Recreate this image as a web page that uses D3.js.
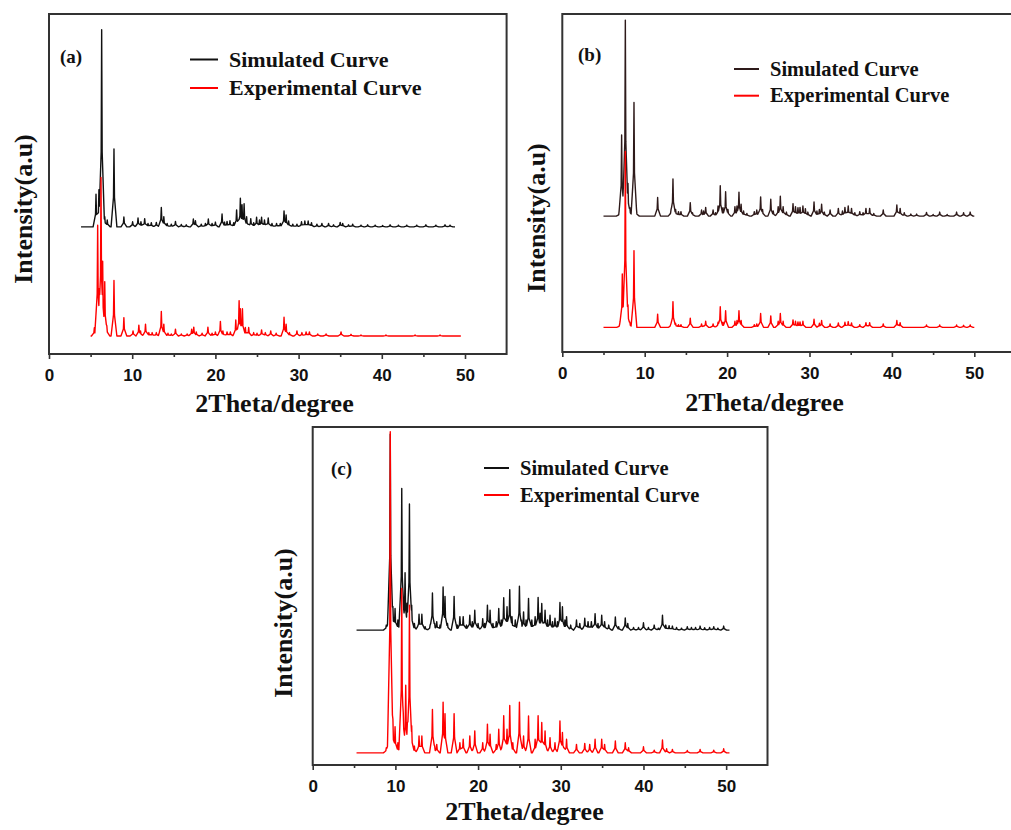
<!DOCTYPE html>
<html>
<head>
<meta charset="utf-8">
<script src="https://cdn.jsdelivr.net/npm/d3@7"></script>
<style>
  body { margin: 0; background: #fff; }
  svg { display: block; }
</style>
</head>
<body>
<div id="chart"></div>
<script>
// tick values and labels
const majorTicks = [0, 10, 20, 30, 40, 50];
const minorTicks = [5, 15, 25, 35, 45];
const xDomain = [0, 55];
const seriesNames = ["Simulated Curve", "Experimental Curve"];
const panelLabels = ["(a)", "(b)", "(c)"];
const xTitle = "2Theta/degree";
const yTitle = "Intensity(a.u)";

// baseline levels (a.u., 0-100 of the frame) and 2theta ranges of each curve
const simBase = [37.4, 40.2, 39.9];
const expBase = [5.3, 7.3, 3.6];
const simRange = [[3.85, 48.8], [5, 50], [5.3, 50.4]];
const expRange = [[5.0, 49.5], [5, 50], [5.3, 50.4]];

// peaks: [2theta, height above baseline]
const simA = [[5.65,9.6],[6.0,10.9],[6.33,58],[6.7,3],[7.0,2],[7.81,22.9],[9.0,2.9],[10.05,1.5],[10.7,2.6],[11.05,1.5],[11.5,2.4],[11.9,1.0],[12.3,1.2],[12.9,1.3],[13.5,5.7],[13.8,3.0],[14.2,1.0],[14.7,0.8],[15.2,1.6],[15.9,0.7],[16.5,0.6],[17.35,2.3],[17.6,1.8],[18.3,0.8],[18.8,1.0],[19.15,2.3],[19.6,1.0],[20.0,1.4],[20.8,3.8],[21.1,1.4],[21.4,1.6],[21.75,1.8],[22.2,1.2],[22.55,5.0],[23.0,8.4],[23.2,6.5],[23.45,6.8],[23.75,3.0],[24.25,2.4],[24.6,1.2],[24.95,2.8],[25.3,2.0],[25.55,2.8],[25.9,2.0],[26.35,2.6],[26.8,1.0],[27.35,1.0],[27.8,1.0],[28.25,4.7],[28.5,3.5],[28.8,1.7],[29.3,0.8],[29.8,0.8],[30.35,1.5],[30.75,1.7],[31.15,1.7],[31.55,1.2],[32.2,0.8],[32.8,1.0],[33.6,1.0],[34.2,0.6],[35.0,1.3],[35.3,1.0],[36.0,0.6],[36.5,0.8],[37.5,0.5],[38.3,0.6],[39.2,0.5],[40.1,0.4],[41.0,0.6],[42.0,0.5],[43.0,0.5],[44.2,0.5],[45.3,0.6],[46.5,0.5],[47.6,0.6],[48.2,0.5]];
const expA = [[5.45,2.4],[5.85,32.6],[6.05,14],[6.25,46.6],[6.45,22],[6.7,16],[6.95,3],[7.81,16.3],[9.0,5.4],[10.1,1.5],[10.8,3.2],[11.0,1.5],[11.6,3.5],[12.0,1.0],[12.4,1.0],[12.9,1.0],[13.5,7.2],[13.8,3.5],[14.3,0.8],[14.7,0.6],[15.2,2.0],[15.9,0.6],[16.6,0.6],[17.15,2.0],[17.4,2.6],[17.7,1.2],[18.4,0.8],[19.1,2.6],[19.6,0.8],[20.0,1.2],[20.6,4.3],[20.9,1.5],[21.4,1.2],[21.8,1.2],[22.45,4.7],[22.85,10.4],[23.0,8],[23.25,8.0],[23.6,2.5],[24.0,2.5],[24.6,1.0],[25.0,0.8],[25.55,1.8],[26.0,1.0],[26.65,1.5],[27.3,0.8],[28.25,5.5],[28.5,3.5],[28.9,1.0],[29.8,1.5],[30.4,1.0],[30.9,1.2],[31.3,1.2],[32.3,0.6],[33.3,0.6],[35.1,1.2],[36.3,0.5],[37.5,0.3],[40.5,0.3],[44.0,0.3],[47.0,0.3]];
const simB = [[6.9,1.0],[7.2,24],[7.42,9],[7.65,58],[7.97,9.7],[8.2,2.5],[8.7,33.6],[9.0,1.5],[11.57,5.5],[13.2,2.0],[13.43,11],[13.75,2.0],[14.1,1.3],[14.4,1.3],[15.53,4],[15.8,1.0],[16.9,1.8],[17.15,1.5],[17.4,2.6],[18.3,1.8],[18.6,1.0],[18.9,3.0],[19.17,9.0],[19.5,2.5],[19.82,7.2],[20.1,2.0],[20.95,2.8],[21.2,3.0],[21.44,7.1],[21.7,3.5],[22.0,1.5],[22.4,0.8],[23.3,1.3],[23.6,1.8],[24.07,5.7],[24.3,2.0],[25.3,5.0],[25.6,1.5],[26.2,2.8],[26.46,5.9],[26.8,2.8],[27.2,1.2],[28.0,3.7],[28.3,2.8],[28.6,2.5],[28.85,2.6],[29.2,3.0],[29.5,2.2],[29.8,1.2],[30.55,4.2],[30.9,1.5],[31.2,2.0],[31.47,3.5],[31.8,1.2],[32.5,1.8],[33.5,2.3],[34.0,1.5],[34.3,2.6],[34.7,3.0],[35.1,2.3],[35.5,1.0],[36.1,1.3],[36.5,1.0],[36.85,2.3],[37.3,2.3],[37.8,0.8],[38.95,1.8],[40.6,3.3],[41.0,2.3],[41.5,1.0],[42.3,0.6],[43.0,0.6],[44.2,1.1],[45.0,0.5],[45.8,1.2],[46.7,0.5],[47.85,1.2],[48.7,1.0],[49.5,1.2]];
const expB = [[6.95,0.8],[7.28,15.8],[7.45,8],[7.65,52],[7.97,6.6],[8.2,1.5],[8.7,22.7],[11.57,3.9],[13.25,1.5],[13.43,7.6],[13.75,1.2],[14.1,0.8],[14.4,0.8],[15.53,2.7],[16.9,1.0],[17.4,1.8],[18.3,1.0],[18.9,1.5],[19.17,6.1],[19.5,1.5],[19.82,4.9],[20.95,1.8],[21.2,2.0],[21.44,4.9],[21.7,2.0],[23.3,0.8],[23.6,1.0],[24.07,4.1],[25.3,3.4],[26.2,1.8],[26.46,4.1],[26.8,1.8],[28.0,2.2],[28.3,1.8],[28.6,1.6],[28.85,1.6],[29.2,1.8],[30.55,2.4],[31.2,1.2],[31.47,2.0],[32.5,1.0],[33.5,1.3],[34.3,1.5],[34.7,1.7],[35.1,1.3],[36.1,0.8],[36.85,1.4],[37.3,1.4],[38.95,1.0],[40.6,2.0],[41.0,1.4],[44.2,0.7],[45.8,0.7],[47.85,0.7],[48.7,0.6],[49.5,0.7]];
const simC = [[8.9,1.5],[9.1,4],[9.38,58],[9.7,7],[9.96,6.4],[10.3,3],[10.77,41.9],[10.95,10],[11.17,17],[11.4,8],[11.7,37.3],[11.97,7.4],[12.3,2],[12.86,4.7],[13.2,4.7],[13.6,1],[14.2,1.5],[14.48,11],[14.75,2],[15.0,2.5],[15.4,1.5],[15.77,12.8],[16.0,10],[16.3,2],[17.1,10],[17.5,1.5],[17.8,4],[18.2,4],[18.6,1.5],[19.0,4.4],[19.3,2.5],[19.6,5.9],[20.0,2],[20.56,3.4],[20.8,2],[21.13,7.4],[21.45,5.9],[21.8,2],[22.2,2.5],[22.5,6.4],[22.8,3],[23.1,9.6],[23.5,6.9],[23.83,12],[24.1,4],[24.5,3],[25.0,13],[25.25,3],[25.5,5.4],[25.8,3],[26.1,9.4],[26.5,3],[26.9,4],[27.26,9.7],[27.5,5],[27.7,7.9],[28.1,5.9],[28.4,3],[28.7,4.4],[29.0,2.5],[29.3,3.5],[29.6,2.5],[29.9,8.2],[30.2,6.9],[30.5,3],[30.7,4],[31.2,1.5],[31.9,3],[32.3,2],[32.9,3.5],[33.3,2.5],[33.7,2.5],[34.15,4.9],[34.5,2],[34.95,4.4],[35.3,2.5],[35.8,1.5],[36.6,3.9],[37.0,1],[37.8,3.6],[38.1,2],[38.8,0.8],[39.4,0.8],[40.0,2.2],[40.6,0.8],[41.3,1.5],[41.8,0.6],[42.3,4.4],[42.7,1.5],[43.1,1.3],[43.5,1.2],[44.0,0.8],[44.6,0.6],[45.3,1.0],[45.8,0.8],[46.3,0.8],[46.85,1.2],[47.4,0.7],[48.0,0.8],[48.5,1.0],[49.0,0.6],[49.7,1.2]];
const expC = [[8.9,1.5],[9.1,5],[9.38,95],[9.7,10],[9.96,7.7],[10.3,3],[10.77,48.6],[10.95,12],[11.25,20],[11.45,9],[11.7,43.7],[11.97,8],[12.3,2],[12.86,5],[13.2,5],[14.48,12.8],[14.75,2],[15.0,2.5],[15.77,15],[16.0,11.6],[17.1,11.6],[17.8,3],[18.2,4],[19.0,5],[19.6,6.5],[20.56,3],[21.13,8.5],[21.45,5.5],[22.2,2.5],[22.5,7],[23.1,11],[23.5,7],[23.83,14],[24.2,3],[25.0,15],[25.5,5],[26.1,10.9],[26.9,4],[27.26,11],[27.7,9],[28.1,6.5],[28.7,4.5],[29.3,3],[29.9,9.4],[30.2,6],[30.7,4],[31.9,2.5],[32.9,2.8],[33.5,2.5],[34.15,4],[34.95,4],[35.3,2.5],[36.6,3.5],[37.8,3],[38.2,1.5],[40.0,1.8],[41.3,0.8],[42.3,3.8],[42.8,1.2],[43.5,1.0],[45.3,0.7],[46.85,1.0],[48.5,0.8],[49.7,1.2]];

const simPeaks = [simA, simB, simC];
const expPeaks = [expA, expB, expC];

// layout of the three frames
const panels = [
  { left: 49, right: 506.6, top: 14, bottom: 354, simColor: "#111", legX: 190, legLen: 28, legY: [59.5, 88], legFont: 22,
    labX: 60, labY: 63, xtX: 274.5, xtY: 412, ytX: 32, ytY: 209 },
  { left: 562.3, right: 1015.5, top: 14, bottom: 352, simColor: "#2e1a1a", legX: 734, legLen: 25, legY: [69, 95.7], legFont: 20.5,
    labX: 578, labY: 61, xtX: 764.5, xtY: 411, ytX: 545, ytY: 218 },
  { left: 312.7, right: 767.5, top: 427, bottom: 765, simColor: "#111", legX: 484, legLen: 25, legY: [468, 495], legFont: 20.5,
    labX: 331, labY: 475, xtX: 524.5, xtY: 820, ytX: 292, ytY: 623 }
];

const width = 1011, height = 830;
const serif = "'Liberation Serif', 'Times New Roman', serif";
const sans = "'Liberation Sans', Arial, sans-serif";

const svg = d3.select('#chart').append('svg')
  .attr('width', width)
  .attr('height', height);

svg.append('rect').attr('width', width).attr('height', height).attr('fill', '#fff');

// peak shape: narrow top, wider foot
function shape(dx) {
  const a = Math.abs(dx);
  if (a >= 0.35) return 0;
  if (a <= 0.06) return 1 - 0.62 * a / 0.06;
  return 0.38 * (0.35 - a) / 0.29;
}

function curvePoints(peaks, base, range) {
  const xs = new Set([range[0], range[1]]);
  peaks.forEach(([p]) => {
    [-0.35, -0.06, 0, 0.06, 0.35].forEach(o => xs.add(+(p + o).toFixed(3)));
  });
  return [...xs]
    .filter(x => x >= range[0] && x <= range[1])
    .sort((a, b) => a - b)
    .map(x => [x, base + (d3.max(peaks, ([p, h]) => h * shape(x - p)) || 0)]);
}

panels.forEach((P, i) => {
  const x = d3.scaleLinear().domain(xDomain).range([P.left, P.right]);
  const y = d3.scaleLinear().domain([0, 100]).range([P.bottom, P.top]);
  const g = svg.append('g');

  const line = d3.line().x(d => x(d[0])).y(d => y(d[1]));

  g.append('path')
    .datum(curvePoints(simPeaks[i], simBase[i], simRange[i]))
    .attr('d', line)
    .attr('fill', 'none')
    .attr('stroke', P.simColor)
    .attr('stroke-width', 1.4)
    .attr('stroke-linejoin', 'round');

  g.append('path')
    .datum(curvePoints(expPeaks[i], expBase[i], expRange[i]))
    .attr('d', line)
    .attr('fill', 'none')
    .attr('stroke', '#ff0000')
    .attr('stroke-width', 1.4)
    .attr('stroke-linejoin', 'round');

  // frame
  g.append('rect')
    .attr('x', P.left).attr('y', P.top)
    .attr('width', P.right - P.left).attr('height', P.bottom - P.top)
    .attr('fill', 'none')
    .attr('stroke', '#333')
    .attr('stroke-width', 2);

  // bottom axis: labelled major ticks and short minor ticks
  const ax = g.append('g')
    .attr('transform', `translate(0,${P.bottom})`)
    .call(d3.axisBottom(x).tickValues(majorTicks).tickSize(5).tickPadding(10).tickFormat(d3.format('d')));
  ax.select('.domain').remove();
  ax.selectAll('line').attr('stroke', '#333').attr('stroke-width', 1.6);
  ax.selectAll('text')
    .attr('fill', '#111')
    .style('font-family', sans)
    .style('font-weight', 'bold')
    .style('font-size', '17px');

  const mx = g.append('g')
    .attr('transform', `translate(0,${P.bottom})`)
    .call(d3.axisBottom(x).tickValues(minorTicks).tickSize(3).tickFormat(''));
  mx.select('.domain').remove();
  mx.selectAll('line').attr('stroke', '#333').attr('stroke-width', 1.6);

  // titles
  g.append('text')
    .attr('x', P.xtX).attr('y', P.xtY)
    .attr('text-anchor', 'middle')
    .style('font-family', serif).style('font-weight', 'bold').style('font-size', '26px')
    .attr('fill', '#111')
    .text(xTitle);

  g.append('text')
    .attr('transform', `translate(${P.ytX},${P.ytY}) rotate(-90)`)
    .attr('text-anchor', 'middle')
    .style('font-family', serif).style('font-weight', 'bold').style('font-size', '26px')
    .attr('fill', '#111')
    .text(yTitle);

  g.append('text')
    .attr('x', P.labX).attr('y', P.labY)
    .style('font-family', serif).style('font-weight', 'bold').style('font-size', '19px')
    .attr('fill', '#111')
    .text(panelLabels[i]);

  // legend
  const legColors = [P.simColor, '#ff0000'];
  seriesNames.forEach((name, k) => {
    g.append('line')
      .attr('x1', P.legX).attr('x2', P.legX + P.legLen)
      .attr('y1', P.legY[k]).attr('y2', P.legY[k])
      .attr('stroke', legColors[k])
      .attr('stroke-width', 2);
    g.append('text')
      .attr('x', P.legX + P.legLen + 11)
      .attr('y', P.legY[k] + P.legFont * 0.33)
      .style('font-family', serif).style('font-weight', 'bold').style('font-size', P.legFont + 'px')
      .attr('fill', '#111')
      .text(name);
  });
});
</script>
</body>
</html>
